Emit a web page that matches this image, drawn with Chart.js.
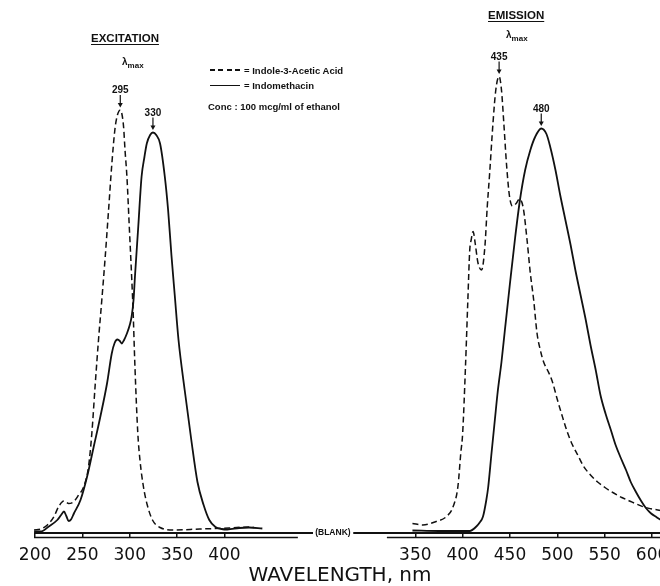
<!DOCTYPE html>
<html>
<head>
<meta charset="utf-8">
<script src="https://cdn.jsdelivr.net/npm/chart.js@4.4.1/dist/chart.umd.min.js"></script>
<style>
  html, body { margin: 0; padding: 0; overflow: hidden; background: #fff; }
  #wrap { position: relative; width: 680px; height: 586px; }
  #wrap canvas { position: absolute; left: 0; top: 0; }
  .note { position: absolute; font-family: "Liberation Sans", Arial, sans-serif; font-weight: bold; color: #111; line-height: 1; white-space: nowrap; }
  .head { font-size: 11.5px; text-decoration: underline; text-underline-offset: 2px; }
  .lam { font-size: 10px; }
  .lam sub { font-size: 8px; vertical-align: -3px; }
  .leg { font-size: 9.5px; }
  .swatch { position: absolute; width: 30px; height: 1.5px; }
</style>
</head>
<body>
<div id="wrap">
  <canvas id="spectra" width="680" height="586"></canvas>
  <div class="note head" style="left:91px; top:33px;">EXCITATION</div>
  <div class="note lam" style="left:122px; top:57px;">λ<sub>max</sub></div>
  <div class="note head" style="left:488px; top:10px;">EMISSION</div>
  <div class="note lam" style="left:506px; top:30px;">λ<sub>max</sub></div>
  <div class="swatch" style="left:210px; top:69px; background:repeating-linear-gradient(90deg,#111 0 5px,transparent 5px 8.5px);"></div>
  <div class="note leg" style="left:244px; top:66px;">= Indole-3-Acetic Acid</div>
  <div class="swatch" style="left:210px; top:84.5px; background:#111;"></div>
  <div class="note leg" style="left:244px; top:81px;">= Indomethacin</div>
  <div class="note leg" style="left:208px; top:102px;">Conc : 100 mcg/ml of ethanol</div>
</div>
<script>
// ---------------------------------------------------------------------------
// data (wavelength in nm, relative intensity 0-100)
// ---------------------------------------------------------------------------

// excitation, indole-3-acetic acid (dashed)
const EX_IAA_NM = [199, 206, 213, 220, 225, 230.5, 235.5, 241, 246, 251.5, 256.5, 260, 263.5, 267, 270.5,
  274, 277.5, 281, 284.5, 287, 290, 291.5, 293.5, 295, 297, 299.5, 302, 303.5, 305.5, 308.5, 311, 314.5,
  318.5, 324, 332, 346, 374, 405, 426, 431];
const EX_IAA = [0.6, 0.8, 1.6, 3.3, 5.3, 6.4, 5.9, 6.3, 7.6, 9.3, 13.3, 20, 29.6, 38.6, 46.6,
  55, 64.2, 73.6, 81, 83.6, 84.6, 84, 81.2, 76.6, 71.3, 61.3, 51.3, 44.6, 33.2, 20, 14.2, 9.2,
  5.6, 2.6, 1.1, 0.6, 0.8, 1.0, 1.2, 1.1];

// excitation, indomethacin (solid)
const EX_INDO_NM = [199, 206, 214.5, 223.5, 227.5, 230.5, 233, 235.5, 238, 241, 248, 255, 262, 269, 276,
  281, 284, 287, 289.5, 291.5, 294, 297, 300, 302, 304, 305.5, 309, 312.5, 315.5, 318, 321.5, 324.5, 328,
  332, 337, 340.5, 344, 347.5, 351.5, 358, 365, 371.5, 378, 384, 390.5, 397, 403, 415.5, 426, 440];
const EX_INDO = [0.3, 0.3, 1.3, 2.6, 3.6, 4.3, 3.4, 2.4, 2.7, 3.9, 6.6, 11.3, 17.3, 23.3, 29.9,
  35.9, 38, 38.7, 38.4, 37.9, 38.6, 39.9, 41.6, 43.3, 46.6, 51.3, 61.3, 71.3, 75.2, 77.9, 79.6, 80.1, 79.6,
  77.9, 71.3, 64.6, 55.6, 47.6, 38.6, 28.6, 18.6, 10.2, 5.6, 2.6, 1.2, 0.8, 0.7, 1.0, 1.1, 0.9];

// emission, indole-3-acetic acid (dashed)
const EM_IAA_NM = [347, 358, 372, 383, 390, 395, 398, 400, 403, 405.5, 407.5, 409, 411, 413.5, 416, 420,
  423.5, 426, 428.5, 432, 435, 438.5, 441, 443.5, 446.5, 449.5, 452.5, 456.5, 460, 464, 468, 471.5, 475,
  478.5, 482, 485.5, 489.5, 492.5, 495.5, 499.5, 504.5, 510.5, 516, 521.5, 527.5, 535, 542.5, 551, 559.5,
  568, 577.5, 591.5, 609.5, 631];
const EM_IAA = [1.9, 1.6, 2.3, 3.3, 5.3, 9.3, 15.9, 19.9, 33.3, 46.6, 56.6, 58.6, 60.3, 57.6, 54.2, 52.6,
  57.3, 65.3, 71.9, 81.9, 88.6, 91.3, 88.6, 81.9, 73.3, 67.3, 65.4, 65.9, 66.8, 65, 58.6, 51.9, 46.6,
  40, 36.6, 34.2, 32.6, 31.4, 29.8, 27, 23.8, 20.2, 17.6, 15.6, 13.4, 11.6, 10.2, 9, 8,
  7.1, 6.3, 5.2, 4.5, 4];

// emission, indomethacin (solid)
const EM_INDO_NM = [347, 375, 407.5, 414.5, 418, 421.5, 425, 427, 430.5, 434, 437, 441, 444.5, 450, 455.5,
  460.5, 466, 471.5, 476.5, 483, 488.5, 492.5, 498, 503, 508.5, 514, 519, 524.5, 530, 535, 540.5, 545.5,
  551, 556.5, 561.5, 567, 572.5, 577.5, 583, 588.5, 593.5, 599, 604.5, 609.5, 631];
const EM_INDO = [0.5, 0.4, 0.4, 1.3, 2.1, 3.3, 6.6, 9.2, 16, 22.6, 28.2, 34.2, 40.4, 50, 59.2,
  66.6, 72.6, 76.6, 79.2, 80.9, 79.8, 77.2, 72.6, 67.6, 62.6, 57.6, 52.6, 47.6, 42.6, 37.6, 32.6, 27.6,
  23.8, 20.6, 17.6, 15, 12.6, 10.2, 8.2, 6.4, 5, 3.9, 3.2, 2.6, 1.6];

const PEAK_LABELS = ['295', '330', '435', '480'];

// the axis is broken: emission wavelengths sit to the right of a shifted copy of the scale
const RIGHT_OFFSET = 251.5;
const TICKS_LEFT = [200, 250, 300, 350, 400];
const TICKS_RIGHT = [350, 400, 450, 500, 550, 600];

const AXIS_TICKS = TICKS_LEFT.concat(TICKS_RIGHT.map(v => v + RIGHT_OFFSET));
const AXIS_LABELS = TICKS_LEFT.concat(TICKS_RIGHT).map(String);

const INK = '#111';

function points(xs, ys, shift) {
    return xs.map((x, i) => ({ x: x + shift, y: ys[i] }));
}

// ---------------------------------------------------------------------------
// plugins: ruler with (BLANK) break, lambda-max markers
// ---------------------------------------------------------------------------

const rulerPlugin = {
    id: 'ruler',
    afterDraw(chart) {
        const { ctx } = chart;
        const xs = chart.scales.x;
        const top = chart.chartArea.bottom;
        const px = v => xs.getPixelForValue(v);
        ctx.save();
        ctx.strokeStyle = INK;
        ctx.lineWidth = 2;
        ctx.beginPath();
        ctx.moveTo(px(199), top); ctx.lineTo(px(493.5), top);
        ctx.moveTo(px(536), top); ctx.lineTo(px(900), top);
        ctx.stroke();
        ctx.lineWidth = 1.5;
        ctx.beginPath();
        ctx.moveTo(px(199), top + 4.5); ctx.lineTo(px(477.5), top + 4.5);
        ctx.moveTo(px(571.5), top + 4.5); ctx.lineTo(px(900), top + 4.5);
        ctx.stroke();
        ctx.fillStyle = INK;
        ctx.font = 'bold 8.5px "Liberation Sans", Arial, sans-serif';
        ctx.textAlign = 'center';
        ctx.textBaseline = 'middle';
        ctx.fillText('(BLANK)', px(514.5), top);
        ctx.restore();
    }
};

const peakPlugin = {
    id: 'peaks',
    afterDatasetsDraw(chart) {
        const { ctx } = chart;
        ctx.save();
        ctx.fillStyle = INK;
        ctx.strokeStyle = INK;
        ctx.lineWidth = 1.2;
        ctx.font = 'bold 10px "Liberation Sans", Arial, sans-serif';
        ctx.textAlign = 'center';
        ctx.textBaseline = 'alphabetic';
        chart.data.datasets.forEach((ds, i) => {
            let best = 0;
            ds.data.forEach((p, j) => { if (p.y > ds.data[best].y) best = j; });
            const el = chart.getDatasetMeta(i).data[best];
            const x = el.x, y = el.y;
            ctx.fillText(PEAK_LABELS[i], x, y - 17);
            ctx.beginPath();
            ctx.moveTo(x, y - 15);
            ctx.lineTo(x, y - 5);
            ctx.stroke();
            ctx.beginPath();
            ctx.moveTo(x - 2.5, y - 7);
            ctx.lineTo(x + 2.5, y - 7);
            ctx.lineTo(x, y - 2.5);
            ctx.closePath();
            ctx.fill();
        });
        ctx.restore();
    }
};

// ---------------------------------------------------------------------------
// chart
// ---------------------------------------------------------------------------

const dashed = { borderColor: INK, borderWidth: 1.5, borderDash: [6, 3.5] };
const solid = { borderColor: INK, borderWidth: 1.8 };

new Chart(document.getElementById('spectra'), {
    type: 'line',
    data: {
        datasets: [
            { label: 'Indole-3-Acetic Acid', data: points(EX_IAA_NM, EX_IAA, 0), ...dashed },
            { label: 'Indomethacin', data: points(EX_INDO_NM, EX_INDO, 0), ...solid },
            { label: 'Indole-3-Acetic Acid', data: points(EM_IAA_NM, EM_IAA, RIGHT_OFFSET), ...dashed },
            { label: 'Indomethacin', data: points(EM_INDO_NM, EM_INDO, RIGHT_OFFSET), ...solid }
        ]
    },
    options: {
        responsive: false,
        animation: false,
        layout: { padding: { top: 33, left: 0, right: 0, bottom: 0 } },
        elements: {
            point: { radius: 0 },
            line: { cubicInterpolationMode: 'monotone', fill: false }
        },
        plugins: { legend: { display: false }, tooltip: { enabled: false } },
        scales: {
            x: {
                type: 'linear',
                min: 163,
                max: 881,
                afterBuildTicks: axis => { axis.ticks = AXIS_TICKS.map(v => ({ value: v })); },
                afterFit: axis => { axis.height = 53; },
                ticks: {
                    autoSkip: false,
                    maxRotation: 0,
                    padding: 7,
                    color: INK,
                    font: { family: 'DejaVu Sans', size: 17 },
                    callback: (value, index) => AXIS_LABELS[index]
                },
                grid: { display: true, drawOnChartArea: false, drawTicks: true, tickLength: 5, color: INK, lineWidth: 1.5 },
                border: { display: false },
                title: {
                    display: true,
                    text: 'WAVELENGTH, nm',
                    color: INK,
                    font: { family: 'DejaVu Sans', size: 20, lineHeight: 1 },
                    padding: { top: 0, bottom: 0 }
                }
            },
            y: { display: false, min: 0, max: 100 }
        }
    },
    plugins: [rulerPlugin, peakPlugin]
});
</script>
</body>
</html>
